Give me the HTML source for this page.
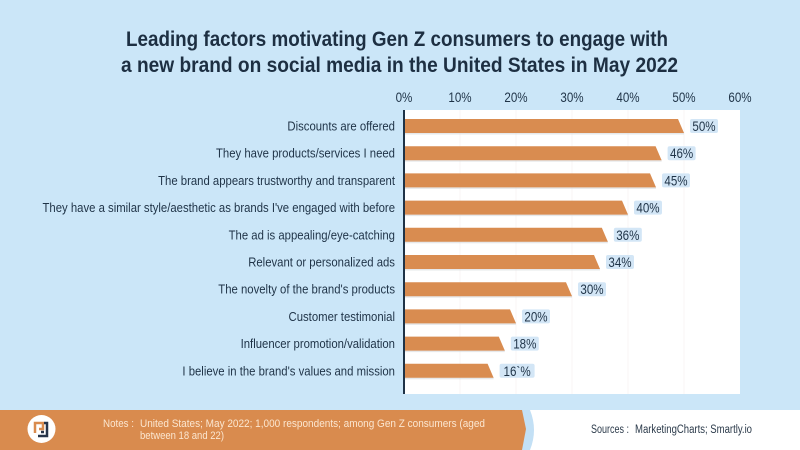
<!DOCTYPE html>
<html lang="en">
<head>
<meta charset="utf-8">
<title>Leading factors motivating Gen Z consumers</title>
<style>
html,body{margin:0;padding:0;width:800px;height:450px;overflow:hidden;background:#cbe6f8}
svg{display:block;font-family:"Liberation Sans",sans-serif}
</style>
</head>
<body>
<svg id="chart" width="800" height="450" viewBox="0 0 800 450" xmlns="http://www.w3.org/2000/svg">
  <rect x="0" y="0" width="800" height="450" fill="#cbe6f8"/>
  <g fill="#1d2f42" font-weight="700" font-size="21.5" text-anchor="middle">
    <text x="397" y="46" textLength="542" lengthAdjust="spacingAndGlyphs">Leading factors motivating Gen Z consumers to engage with</text>
    <text x="399.500" y="72" textLength="557" lengthAdjust="spacingAndGlyphs">a new brand on social media in the United States in May 2022</text>
  </g>
  <rect x="404" y="110" width="336" height="284" fill="#ffffff"/>
  <g id="grid"></g>
  <g id="ticks"></g>
  <g id="bars"></g>
  <g id="cats"></g>
  <g id="vals"></g>
  <rect x="403" y="110" width="2" height="284" fill="#1f3347"/>

  <rect x="528" y="410" width="272" height="40" fill="#ffffff"/>
  <path d="M0 410H530Q538 430 530 450H0Z" fill="#c3e0f5"/>
  <path d="M0 410H522L526 429L522 450H0Z" fill="#d98b4e"/>
  <g>
    <circle cx="41.500" cy="429" r="14" fill="#ffffff"/>
    <path d="M35 433V423H43V429H39" fill="none" stroke="#d98b4e" stroke-width="2.500"/>
    <path d="M38 436H47V423H44M44 432H41" fill="none" stroke="#26344a" stroke-width="2.500"/>
  </g>
  <g fill="#fbe6d0" font-size="11">
    <text x="103" y="427" textLength="31" lengthAdjust="spacingAndGlyphs">Notes :</text>
    <text x="140" y="427" textLength="345" lengthAdjust="spacingAndGlyphs">United States; May 2022; 1,000 respondents; among Gen Z consumers (aged</text>
    <text x="140" y="439" textLength="84" lengthAdjust="spacingAndGlyphs">between 18 and 22)</text>
  </g>
  <g fill="#2b3a4a" font-size="11.500">
    <text x="591" y="433" textLength="38" lengthAdjust="spacingAndGlyphs">Sources :</text>
    <text x="635" y="433" textLength="117" lengthAdjust="spacingAndGlyphs">MarketingCharts; Smartly.io</text>
  </g>
</svg>
<script>
const categories = [
  "Discounts are offered",
  "They have products/services I need",
  "The brand appears trustworthy and transparent",
  "They have a similar style/aesthetic as brands I've engaged with before",
  "The ad is appealing/eye-catching",
  "Relevant or personalized ads",
  "The novelty of the brand's products",
  "Customer testimonial",
  "Influencer promotion/validation",
  "I believe in the brand's values and mission"
];
const barValues = [50, 46, 45, 40, 36.4, 35, 30, 20, 18, 16];
const valueLabels = ["50%", "46%", "45%", "40%", "36%", "34%", "30%", "20%", "18%", "16`%"];
const tickValues = [0, 10, 20, 30, 40, 50, 60];
const tickLabels = ["0%", "10%", "20%", "30%", "40%", "50%", "60%"];

const NS = "http://www.w3.org/2000/svg";
const xOf = v => 404 + v * 5.6;
const yOf = i => 126 + i * 27.2;
const BAR_H = 14;
const DARK = "#1f3347";

function mk(tag, parent, attrs) {
  const el = document.createElementNS(NS, tag);
  for (const k in attrs) el.setAttribute(k, attrs[k]);
  parent.appendChild(el);
  return el;
}
function squeeze(t, factor) {
  const w = t.getComputedTextLength();
  t.setAttribute("textLength", (w * factor).toFixed(1));
  t.setAttribute("lengthAdjust", "spacingAndGlyphs");
}

const grid = document.getElementById("grid");
const ticks = document.getElementById("ticks");
tickValues.forEach((t, i) => {
  if (i > 0 && i < tickValues.length - 1) {
    const g = mk("line", grid, {x1: xOf(t), x2: xOf(t), y1: 110, y2: 394, stroke: "#f8f6f4", "stroke-width": 1});
    
    
  }
  const l = mk("text", ticks, {x: xOf(t), y: 102, "text-anchor": "middle", "font-size": 13.5, fill: DARK});
  
  
  l.textContent = tickLabels[i];
  squeeze(l, 0.86);
});

const bars = document.getElementById("bars");
const cats = document.getElementById("cats");
const vals = document.getElementById("vals");
categories.forEach((c, i) => {
  const x0 = xOf(0), x1 = xOf(barValues[i]), y = yOf(i), top = y - BAR_H / 2, bot = y + BAR_H / 2;

  const sh = mk("rect", bars, {x: x0, y: bot - 1, width: x1 - x0, height: 2.5, fill: "#d5d8dc", opacity: 0.6});
  
  

  const p = mk("path", bars, {d: `M${x0} ${top}H${x1 - 6}L${x1} ${bot}H${x0}Z`, fill: "#d98c50"});
  
  

  const t = mk("text", cats, {x: 395, y: y + 4.5, "text-anchor": "end", "font-size": 13, fill: DARK});
  
  
  t.textContent = c;
  squeeze(t, 0.872);

  const label = valueLabels[i];
  const bw = label.length > 3 ? 35 : 28;
  const b = mk("rect", vals, {x: x1 + 6, y: y - 7, width: bw, height: 14, rx: 2, fill: "#d3e6f6"});
  
  

  const v = mk("text", vals, {x: x1 + 6 + bw / 2, y: y + 5, "text-anchor": "middle", "font-size": 13.5, fill: DARK});
  
  
  v.textContent = label;
  squeeze(v, 0.86);
});
</script>
</body>
</html>
